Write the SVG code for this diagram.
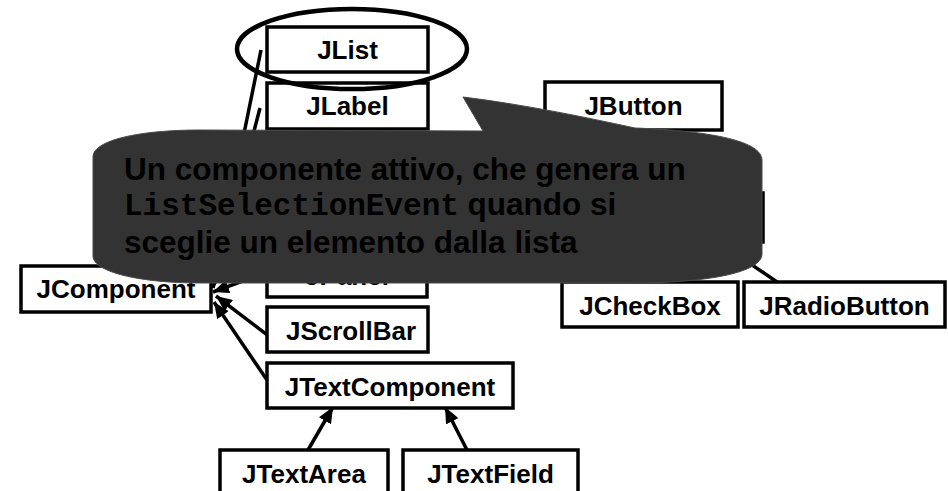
<svg xmlns="http://www.w3.org/2000/svg" width="948" height="491" viewBox="0 0 948 491">
<style>
.box{fill:#fff;stroke:#000;stroke-width:3.5}
.lbl{font-family:"Liberation Sans",Arial,sans-serif;font-weight:bold;font-size:26px;fill:#000;text-anchor:middle}
.con{stroke:#000;stroke-width:3.5;fill:none}
.ct{font-family:"Liberation Sans",Arial,sans-serif;font-weight:bold;font-size:31.5px;fill:#000}
.mono{font-family:"Liberation Mono","Courier New",monospace;font-weight:bold;font-size:31px}
</style>
<defs>
<marker id="ah" markerWidth="16" markerHeight="14" refX="16" refY="7" orient="auto" markerUnits="userSpaceOnUse">
<path d="M0,0 L16,7 L0,14 Z" fill="#000"/>
</marker>
</defs>
<rect width="948" height="491" fill="#fff"/>

<g id="connectors">
<path class="con" d="M261,50 L213,286" marker-end="url(#ah)"/>
<path class="con" d="M260,108 L213,288" marker-end="url(#ah)"/>
<path class="con" d="M267,272 L213,292" marker-end="url(#ah)"/>
<path class="con" d="M274,340 L216,296" marker-end="url(#ah)"/>
<path class="con" d="M267,380 L214,302" marker-end="url(#ah)"/>
<path class="con" d="M308,450 L333,407" marker-end="url(#ah)"/>
<path class="con" d="M467,450 L445,407" marker-end="url(#ah)"/>
<path class="con" d="M777,282 L720,243" marker-end="url(#ah)"/>
</g>

<g id="JList"><rect class="box" x="267" y="27" width="161" height="45"/><text class="lbl" x="347.5" y="59">JList</text></g>
<g id="JLabel"><rect class="box" x="267" y="83" width="161" height="46"/><text class="lbl" x="347.5" y="115">JLabel</text></g>
<g id="JButton"><rect class="box" x="545" y="82" width="177" height="48"/><text class="lbl" x="633.5" y="115">JButton</text></g>
<g id="JToggleButton"><rect class="box" x="600" y="193" width="163" height="49"/></g>
<g id="JPanel"><rect class="box" x="267" y="252" width="160" height="45"/><text class="lbl" x="347" y="285">JPanel</text></g>
<g id="JComponent"><rect class="box" x="21" y="266" width="190" height="46"/><text class="lbl" x="116" y="298">JComponent</text></g>
<g id="JScrollBar"><rect class="box" x="267" y="307" width="161" height="45"/><text class="lbl" x="351" y="340">JScrollBar</text></g>
<g id="JTextComponent"><rect class="box" x="267" y="363" width="246" height="45"/><text class="lbl" x="390" y="396">JTextComponent</text></g>
<g id="JTextArea"><rect class="box" x="220" y="450" width="168" height="48"/><text class="lbl" x="304" y="483">JTextArea</text></g>
<g id="JTextField"><rect class="box" x="403" y="450" width="175" height="48"/><text class="lbl" x="490.5" y="483">JTextField</text></g>
<g id="JCheckBox"><rect class="box" x="562" y="282" width="176" height="45"/><text class="lbl" x="650" y="315">JCheckBox</text></g>
<g id="JRadioButton"><rect class="box" x="744" y="282" width="201" height="45"/><text class="lbl" x="844.5" y="315">JRadioButton</text></g>

<ellipse id="highlight" cx="352" cy="49" rx="115" ry="40" fill="none" stroke="#000" stroke-width="4.5"/>

<g id="callout">
<path d="M93,157 C93,140 140,130 200,130 L483,131 L463,97 C520,104 580,116 635,128 C715,131 762,142 762,160 L762,254 C762,272 710,283 630,283 L200,283 C140,283 93,272 93,256 Z" fill="#333333" stroke="#4a4a4a" stroke-width="1"/>
<text class="ct" x="124" y="180">Un componente attivo, che genera un</text>
<text class="ct" x="124" y="215"><tspan class="mono">ListSelectionEvent</tspan> quando si</text>
<text class="ct" x="124" y="253">sceglie un elemento dalla lista</text>
</g>
</svg>
